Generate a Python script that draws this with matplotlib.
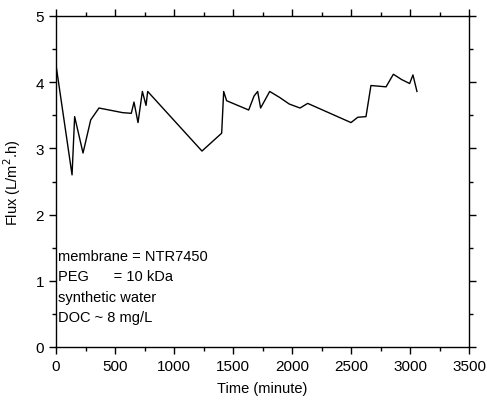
import matplotlib
matplotlib.use("Agg")
import matplotlib.pyplot as plt
from matplotlib.ticker import MultipleLocator

plt.rcParams['font.family'] = ['Liberation Sans', 'DejaVu Sans']

time_min = [0, 136, 158, 229, 294, 364, 565, 638, 661, 695, 732, 763, 777,
            1237, 1404, 1421, 1446, 1633, 1678, 1709, 1734, 1811, 1895, 1977,
            2068, 2133, 2500, 2557, 2627, 2669, 2797, 2859, 2929, 2997, 3025, 3059]
flux = [4.26, 2.60, 3.48, 2.93, 3.43, 3.61, 3.54, 3.53, 3.70, 3.39, 3.86, 3.65, 3.86,
        2.96, 3.23, 3.86, 3.72, 3.58, 3.79, 3.86, 3.61, 3.86, 3.77, 3.67,
        3.61, 3.68, 3.39, 3.47, 3.48, 3.95, 3.93, 4.12, 4.04, 3.98, 4.11, 3.86]

notes = ["membrane = NTR7450", "PEG      = 10 kDa", "synthetic water", "DOC ~ 8 mg/L"]

fig = plt.figure(figsize=(4.87, 4.02), dpi=100)
ax = fig.add_axes([56/487, 1 - 348/402, (469-56)/487, (348-17)/402])
ax.plot(time_min, flux, color='black', lw=1.0)
ax.set_xlim(0, 3500)
ax.set_ylim(0, 5)
ax.xaxis.set_major_locator(MultipleLocator(500))
ax.xaxis.set_minor_locator(MultipleLocator(250))
ax.yaxis.set_major_locator(MultipleLocator(1))
ax.yaxis.set_minor_locator(MultipleLocator(0.5))
ax.tick_params(which='both', direction='out', top=True, right=True, labelsize=11, width=1)
ax.tick_params(which='major', length=5)
ax.tick_params(which='minor', length=3)
for s in ax.spines.values():
    s.set_linewidth(1)
ax.set_xlabel("Time (minute)", fontsize=10.5, labelpad=6)
ax.set_ylabel("Flux (L/m$^2$.h)", fontsize=10.5, labelpad=9)

for i, t in enumerate(notes):
    ax.text(0.005, 0.276 - i*0.062, t, transform=ax.transAxes, fontsize=10.5, va='center', ha='left')

fig.savefig("out.png", dpi=100)
